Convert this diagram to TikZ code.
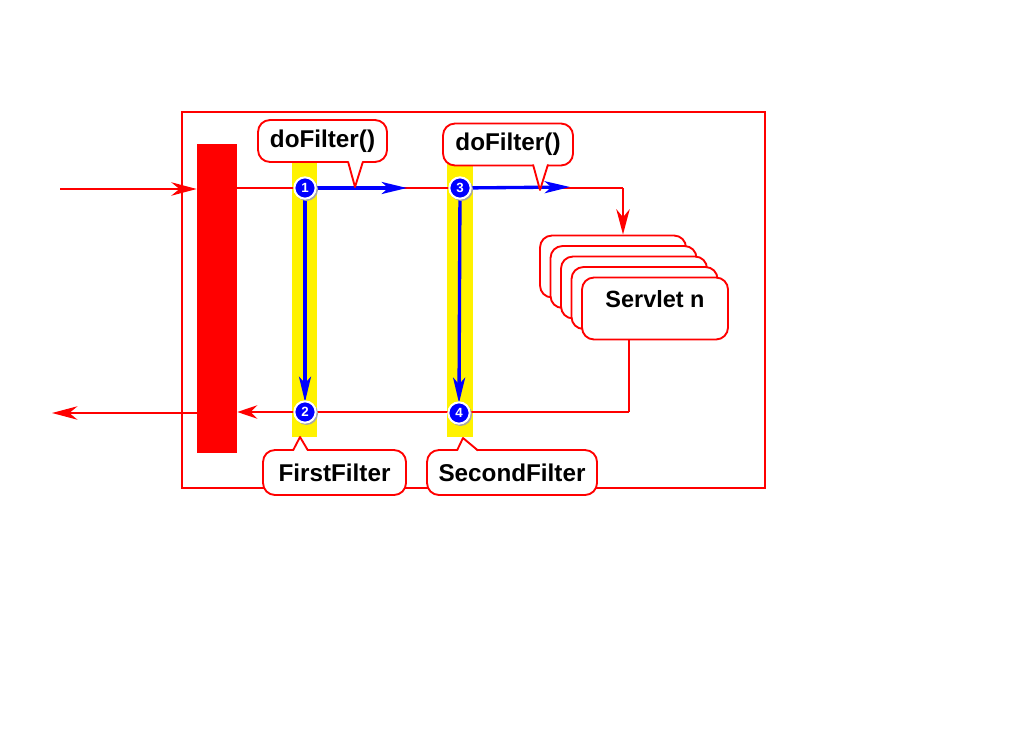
\documentclass[tikz,border=0pt]{standalone}
\usepackage{fontspec}
\setmainfont{Liberation Sans}
\usetikzlibrary{arrows.meta,calc}
\begin{document}
\begin{tikzpicture}[x=0.75pt,y=-0.75pt,
  redline/.style={draw=red,line width=2pt},
  blueline/.style={draw=blue,line width=2.5pt},
  redtip/.style={-{Stealth[length=19pt,width=10pt,inset=6pt]}},
  redtipsmall/.style={-{Stealth[length=15pt,width=10pt,inset=5pt]}},
  bluetip/.style={-{Stealth[length=19pt,width=9pt,inset=5pt]}},
  callout/.style={draw=red,line width=1.4pt,fill=white,rounded corners=9pt,inner sep=0pt,font=\fontsize{18.2}{21}\selectfont\bfseries},
  servbox/.style={draw=red,line width=1.4pt,fill=white,rounded corners=9pt,minimum width=109.5pt,minimum height=46.5pt,inner sep=0pt},
  num/.style={circle,fill=blue,draw=white,line width=1.5pt,minimum size=16pt,inner sep=0pt,text=white,font=\fontsize{10}{10}\selectfont\bfseries},
  yellowbar/.style={fill=yellow,draw=none}
]
\useasboundingbox (0,0) rectangle (1024,738);
% frame
\node[draw=red,line width=2.1pt,minimum width=437.25pt,minimum height=282pt,inner sep=0pt] (frame) at (473.5,300) {};
% red bar
\node[fill=red,minimum width=30pt,minimum height=231.75pt,inner sep=0pt] (bar) at (217,298.5) {};
% yellow bars
\node[yellowbar,minimum width=18.75pt,minimum height=205.5pt,inner sep=0pt] (y1) at (304.5,300) {};
\node[yellowbar,minimum width=19.5pt,minimum height=205.5pt,inner sep=0pt] (y2) at (460,300) {};
% servlet stack
\node[servbox] (s1) at (613,266.5) {};
\node[servbox] (s2) at (623.5,277) {};
\node[servbox] (s3) at (634,287.5) {};
\node[servbox] (s4) at (644.5,298) {};
\node[servbox,font=\fontsize{17.6}{20}\selectfont\bfseries] (s5) at (655,308.5) {\raisebox{14pt}{Servlet n}};
% coordinates
\coordinate (inStart) at (60,189);
\coordinate (outEnd) at (52,413);
\coordinate (topR) at (623,188);
\coordinate (botR) at (629,412);
% circles positions
\coordinate (c1) at (305,188);
\coordinate (c2) at (305,412);
\coordinate (c3) at (460,188);
\coordinate (c4) at (459,413);
% red lines
\draw[redline,redtip] (inStart) -- (bar.west |- inStart);
\draw[redline] (bar.east |- c1) -- (topR);
\draw[redline,redtip] (topR) -- (s1.north -| topR);
\draw[redline] (s5.south -| botR) -- (botR);
\draw[redline,redtipsmall] (botR) -- (bar.east |- botR);
\draw[redline,redtip] (bar.west |- outEnd) -- (outEnd);
% blue arrows
\coordinate (b1e) at (407,188);
\coordinate (b3e) at (570,187);
\draw[blueline,bluetip] (c1) -- (b1e);
\draw[blueline,bluetip] (c3) -- (b3e);
\draw[blueline,bluetip] (c1) -- ($(c2)+(0,-10)$);
\draw[blueline,bluetip] (c3) -- ($(c4)+(0,-10)$);
% number circles
\foreach \p/\n in {c1/1,c2/2,c3/3,c4/4}{
  \fill[gray!70] ($(\p)+(1.5,1.5)$) circle (11.5);
  \node[num] (n\n) at (\p) {\n};
}
% callouts
\node[callout,minimum width=96.75pt,minimum height=31.5pt] (cf1) at (322.5,141) {doFilter()};
\fill[white] (348,160) -- (355,187) -- (363,160) -- cycle;
\draw[red,line width=1.4pt,line join=round] (348,161.5) -- (355,187) -- (363,161.5);
\node[callout,minimum width=97.5pt,minimum height=31.5pt] (cf2) at (508,144.5) {doFilter()};
\fill[white] (533,163) -- (540,190) -- (548,163) -- cycle;
\draw[red,line width=1.4pt,line join=round] (533,164.5) -- (540,190) -- (548,164.5);
\node[callout,minimum width=107.25pt,minimum height=33.75pt] (ff) at (334.5,472.5) {FirstFilter};
\fill[white] (293,452) -- (300,437) -- (308,452) -- cycle;
\draw[red,line width=1.4pt,line join=round] (293,450.5) -- (300,437) -- (308,450.5);
\node[callout,minimum width=127.5pt,minimum height=33.75pt] (sf) at (512,472.5) {SecondFilter};
\fill[white] (457,452) -- (463,438) -- (478,452) -- cycle;
\draw[red,line width=1.4pt,line join=round] (457,450.5) -- (463,438) -- (478,450.5);
\end{tikzpicture}
\end{document}
